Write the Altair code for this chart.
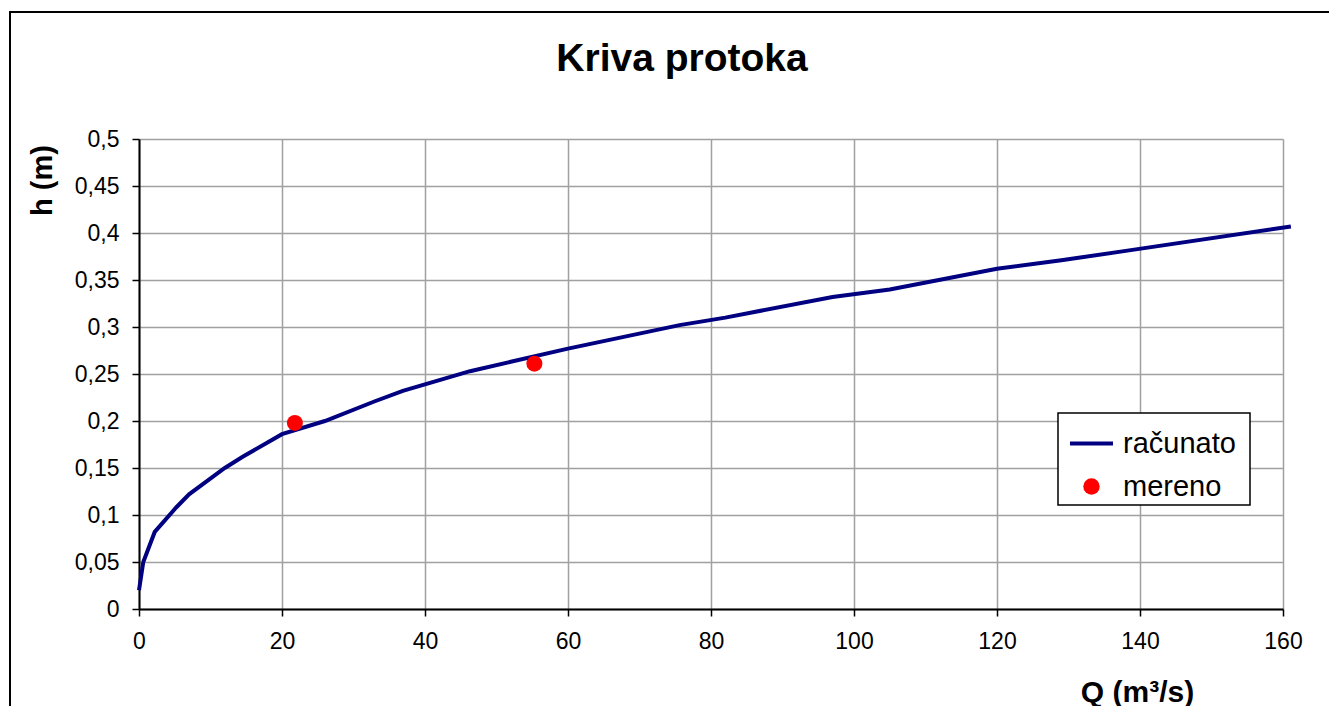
import altair as alt
import pandas as pd

# calculated rating curve (Q in m3/s, h in m)
Q_calc = [0, 0.6, 2.2, 5.2, 7.0, 12.0, 14.5, 20.0, 26.0, 33.0, 36.9, 46.3, 52.0,
          60.0, 75.6, 82.0, 97.0, 105.0, 120.0, 129.0, 138.0, 161.1]
h_calc = [0.02, 0.05, 0.082, 0.108, 0.122, 0.15, 0.162, 0.186, 0.2, 0.221, 0.232,
          0.253, 0.263, 0.277, 0.302, 0.31, 0.332, 0.34, 0.362, 0.371, 0.381, 0.407]

# measured points
Q_meas = [21.8, 55.3]
h_meas = [0.198, 0.261]

series_calc = "računato"
series_meas = "mereno"
color_calc = "#000080"
color_meas = "#ff0000"

x_ticks = [0, 20, 40, 60, 80, 100, 120, 140, 160]
y_ticks = [0, 0.05, 0.1, 0.15, 0.2, 0.25, 0.3, 0.35, 0.4, 0.45, 0.5]

FONT = "Liberation Sans"

df_line = pd.DataFrame({"Q": Q_calc, "h": h_calc, "s1": series_calc})
df_pts = pd.DataFrame({"Q": Q_meas, "h": h_meas, "s2": series_meas})
df_one = pd.DataFrame({"k": [0]})

x_enc = alt.X(
    "Q:Q",
    scale=alt.Scale(domain=[0, 160], nice=False, zero=True),
    axis=alt.Axis(
        values=x_ticks, title="Q (m³/s)", titleX=998, titleY=83,
        titleAlign="center", titleBaseline="middle",
        titleFont=FONT, titleFontSize=30, titleFontWeight="bold", titleColor="black",
        labelPadding=14, labelFlush=False,
    ),
)
y_enc = alt.Y(
    "h:Q",
    scale=alt.Scale(domain=[0, 0.5], nice=False),
    axis=alt.Axis(
        values=y_ticks, title="h (m)", titleX=-97, titleY=41, titleAngle=270,
        titleAlign="center", titleBaseline="middle",
        titleFont=FONT, titleFontSize=29, titleFontWeight="bold", titleColor="black",
        format="~g", labelExpr="replace(datum.label, '.', ',')", labelPadding=13,
        labelFlush=False,
    ),
)

# outer chart frame (decoration)
frame = alt.Chart(df_one).mark_rect(
    fillOpacity=0, stroke="black", strokeWidth=2
).encode(
    x=alt.value(-129), x2=alt.value(1210), y=alt.value(-127), y2=alt.value(590)
)

# legend box (decoration)
legend_box = alt.Chart(df_one).mark_rect(
    fill="white", stroke="black", strokeWidth=1.5
).encode(
    x=alt.value(919), x2=alt.value(1111), y=alt.value(274), y2=alt.value(366)
)

line = alt.Chart(df_line).mark_line(strokeWidth=4, clip=False).encode(
    x=x_enc, y=y_enc,
    color=alt.Color(
        "s1:N",
        scale=alt.Scale(domain=[series_calc], range=[color_calc]),
        legend=alt.Legend(
            title=None, orient="none", legendX=929, legendY=281, padding=0,
            labelFont=FONT, labelFontSize=29, labelColor="black",
            symbolSize=1849, symbolStrokeWidth=4, labelOffset=8,
        ),
    ),
)

pts = alt.Chart(df_pts).mark_point(filled=True, size=256, opacity=1).encode(
    x="Q:Q", y="h:Q",
    color=alt.Color(
        "s2:N",
        scale=alt.Scale(domain=[series_meas], range=[color_meas]),
        legend=alt.Legend(
            title=None, orient="none", legendX=938, legendY=333, padding=0,
            labelFont=FONT, labelFontSize=29, labelColor="black",
            symbolSize=270, symbolStrokeWidth=0, symbolOpacity=1, labelOffset=17,
        ),
    ),
)

chart = alt.layer(frame, legend_box, line, pts).resolve_scale(
    color="independent"
).resolve_legend(color="independent").properties(
    width=1144, height=470,
    padding={"left": 131, "top": 131, "right": 46, "bottom": 97},
    autosize=alt.AutoSizeParams(type="none"),
    background="white",
    title=alt.TitleParams(
        "Kriva protoka", font=FONT, fontSize=39, fontWeight="bold", color="black",
        anchor="middle", baseline="alphabetic", offset=-99, dx=-29,
    ),
).configure_axis(
    labelFont=FONT, labelFontSize=23, labelColor="black",
    domainColor="black", domainWidth=2,
    tickColor="black", tickWidth=1.5, tickSize=7,
    gridColor="#a0a0a0", gridWidth=1.5, gridOpacity=1,
).configure_legend(
    labelFont=FONT, labelFontSize=29, labelColor="black", labelLimit=400,
).configure_view(stroke=None)

chart.save("out.html", embed_options={"renderer": "svg", "actions": False})
